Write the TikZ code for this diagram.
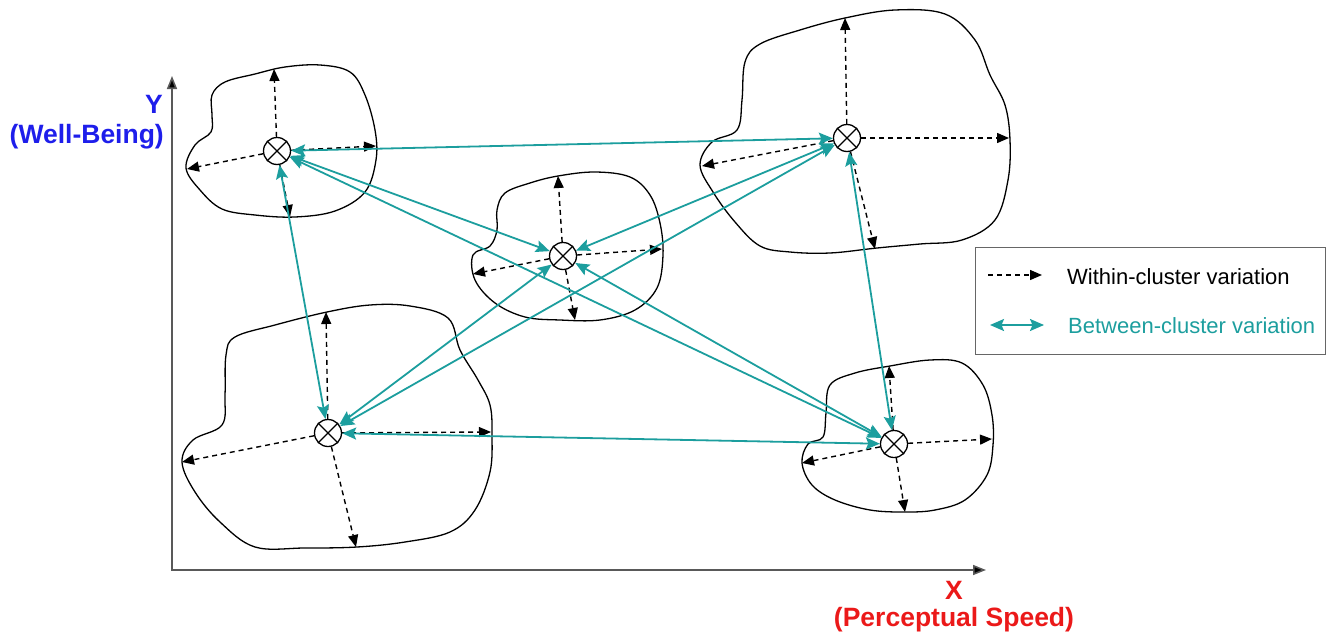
\documentclass[tikz,border=0pt]{standalone}
\usepackage{fontspec}
\setmainfont{Liberation Sans}
\usetikzlibrary{arrows.meta}
\definecolor{tealc}{RGB}{28,158,158}
\definecolor{ylab}{RGB}{30,30,235}
\definecolor{xlab}{RGB}{235,25,25}
\begin{document}
\begin{tikzpicture}[x=1pt,y=-1pt,
  ctr/.style={circle,draw,line width=1.3pt,minimum size=27pt,inner sep=0pt},
  blob/.style={draw,line width=1.3pt,smooth cycle,tension=0.6},
  within/.style={line width=1.4pt,dash pattern=on 5pt off 4pt,-{Triangle[length=12pt,width=10pt]}},
  between/.style={line width=1.8pt,draw=tealc,{Stealth[length=14pt,width=12pt,inset=2.5pt,fill=tealc]}-{Stealth[length=14pt,width=12pt,inset=2.5pt,fill=tealc]}},
  axis/.style={line width=1.6pt,draw=black!65,{Triangle[length=13pt,width=10pt,fill=black]}-{Triangle[length=13pt,width=10pt,fill=black]}},
  axlab/.style={font=\fontsize{26.5}{30}\selectfont\bfseries,inner sep=0pt},
  legtext/.style={font=\fontsize{22}{26}\selectfont,inner sep=0pt,anchor=west}]
\useasboundingbox (0,0) rectangle (1330,637);

% axes
\coordinate (ytip) at (172,76);
\coordinate (orig) at (172,570);
\coordinate (xtip) at (986,570);
\draw[axis] (ytip) -- (orig) -- (xtip);
\node[axlab,text=ylab] (ylabY) at (154,104) {Y};
\node[axlab,text=ylab,anchor=east] (ylabW) at (164,137) {(Well-Being)};
\node[axlab,text=xlab] (xlabX) at (954,590) {X};
\node[axlab,text=xlab] (xlabP) at (954,620) {(Perceptual Speed)};

% blobs
\draw[blob] plot coordinates {(212,95) (225,82) (255,74) (285,67) (320,65) (350,72) (365,95) (375,130) (376,160) (365,192) (335,211) (295,217) (255,215) (222,209) (200,190) (186,168) (195,145) (211,132) (212,115)};
\draw[blob] plot coordinates {(745,62) (760,44) (800,30) (845,18) (895,10) (945,14) (975,40) (990,75) (1005,105) (1010,140) (1008,180) (995,220) (962,240) (920,244) (877,248) (830,253) (790,252) (760,246) (735,222) (713,192) (700,165) (712,142) (737,130) (742,100)};
\draw[blob] plot coordinates {(497,210) (505,193) (530,183) (558,176) (595,172) (630,177) (650,195) (660,223) (663,255) (657,288) (635,310) (600,320) (560,320) (525,317) (495,303) (475,280) (473,255) (490,246) (497,230)};
\draw[blob] plot coordinates {(226,355) (235,337) (275,325) (327,312) (370,305) (410,306) (448,318) (460,350) (478,380) (490,405) (492,435) (490,472) (475,510) (450,532) (405,542) (357,547) (305,548) (255,547) (220,522) (195,492) (182,462) (193,440) (222,425) (225,395)};
\draw[blob] plot coordinates {(826,413) (830,385) (855,373) (890,366) (930,360) (962,363) (983,385) (992,415) (993,445) (987,475) (965,500) (935,510) (905,512) (870,510) (835,500) (812,485) (802,463) (808,444) (823,437)};

% centres
\node[ctr] (A) at (277,151) {};
\node[ctr] (B) at (847,138) {};
\node[ctr] (C) at (563,256) {};
\node[ctr] (D) at (328,433) {};
\node[ctr] (E) at (894,444) {};
\foreach \n in {A,B,C,D,E}{
  \draw[line width=1.1pt] (\n.north west) -- (\n.south east) (\n.north east) -- (\n.south west);
}

% within-cluster ends
\coordinate (Au) at (274,69);  \coordinate (Ar) at (376,146); \coordinate (Al) at (187,169); \coordinate (Ad) at (290,217);
\coordinate (Bu) at (845,18);  \coordinate (Br) at (1009,138); \coordinate (Bl) at (702,166); \coordinate (Bd) at (875,249);
\coordinate (Cu) at (558,176); \coordinate (Cr) at (662,249); \coordinate (Cl) at (473,274); \coordinate (Cd) at (575,320);
\coordinate (Du) at (326,312); \coordinate (Dr) at (491,432); \coordinate (Dl) at (182,462); \coordinate (Dd) at (356,547);
\coordinate (Eu) at (889,366); \coordinate (Er) at (992,439); \coordinate (El) at (802,463); \coordinate (Ed) at (905,512);
\foreach \n in {A,B,C,D,E}{
  \foreach \d in {u,r,l,d}{
    \draw[within] (\n) -- (\n\d);
  }
}

% between-cluster
\draw[between] (A) -- (B);
\draw[between] (A) -- (C);
\draw[between] (A) -- (D);
\draw[between] (A) -- (E);
\draw[between] (B) -- (C);
\draw[between] (B) -- (D);
\draw[between] (B) -- (E);
\draw[between] (C) -- (D);
\draw[between] (C) -- (E);
\draw[between] (D) -- (E);

% legend
\node[draw=black!60,line width=1.2pt,minimum width=350pt,minimum height=107pt,anchor=north west,inner sep=0pt] (leg) at (975,247) {};
\coordinate (lw1) at (988,275); \coordinate (lw2) at (1042,275);
\coordinate (lb1) at (990,325); \coordinate (lb2) at (1044,325);
\draw[within] (lw1) -- (lw2);
\draw[between] (lb1) -- (lb2);
\node[legtext] (lwt) at (1067,277) {Within-cluster variation};
\node[legtext,text=tealc] (lbt) at (1068,326) {Between-cluster variation};
\end{tikzpicture}
\end{document}
